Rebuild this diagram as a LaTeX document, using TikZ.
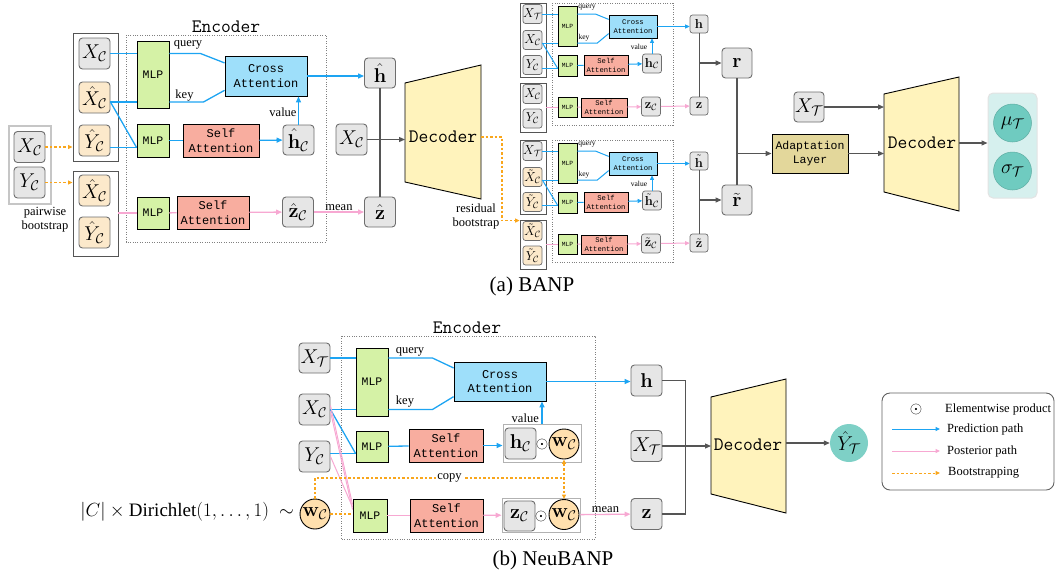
\RequirePackage{fix-cm}
\documentclass[tikz,border=0pt]{standalone}
\usepackage[no-math]{fontspec}
\setmainfont{Liberation Serif}
\newfontfamily\blk{Liberation Mono}
\usetikzlibrary{arrows.meta,calc}

\definecolor{boxgray}{HTML}{E6E6E6}
\definecolor{boxedge}{HTML}{6E6E6E}
\definecolor{hatfill}{HTML}{FCE9CB}
\definecolor{wfill}{HTML}{FFE0AE}
\definecolor{mlpfill}{HTML}{D5F2A6}
\definecolor{crossfill}{HTML}{9EDFFA}
\definecolor{selffill}{HTML}{F8AD9F}
\definecolor{decfill}{HTML}{FFF3BC}
\definecolor{adaptfill}{HTML}{E3D79B}
\definecolor{outfill}{HTML}{D6F0EE}
\definecolor{tealfill}{HTML}{6FCBC0}
\definecolor{yhatfill}{HTML}{7ED0C6}
\definecolor{predblue}{HTML}{1DA4F2}
\definecolor{postpink}{HTML}{F7A8D2}
\definecolor{bootorange}{HTML}{F9A61C}
\definecolor{wire}{HTML}{555555}

\tikzset{
  vbox/.style={draw=boxedge, fill=boxgray, rounded corners=3.5pt, line width=0.9pt,
    inner sep=0pt, minimum width=31pt, minimum height=31pt, font=\fontsize{20}{24}\selectfont},
  hvbox/.style={vbox, fill=hatfill},
  svbox/.style={vbox, minimum width=19pt, minimum height=19pt, rounded corners=2.5pt,
    line width=0.7pt, font=\fontsize{13}{15}\selectfont},
  shvbox/.style={svbox, fill=hatfill},
  blockbase/.style={draw=black, line width=0.9pt, inner sep=0pt, align=center,
    font=\blk\fontsize{12}{14.5}\selectfont},
  mlpblk/.style={blockbase, fill=mlpfill, font=\blk\fontsize{11.5}{13}\selectfont},
  crossblk/.style={blockbase, fill=crossfill},
  selfblk/.style={blockbase, fill=selffill},
  smlpblk/.style={mlpblk, line width=0.7pt, font=\blk\fontsize{6.3}{7}\selectfont},
  scrossblk/.style={crossblk, line width=0.7pt, font=\blk\fontsize{7.2}{9}\selectfont},
  sselfblk/.style={selfblk, line width=0.7pt, font=\blk\fontsize{7.2}{9}\selectfont},
  grpbox/.style={draw=wire, line width=0.9pt, inner sep=0pt},
  encbox/.style={draw=gray, dash pattern=on 1pt off 1.4pt, line width=0.8pt},
  pred/.style={draw=predblue, line width=1.3pt},
  post/.style={draw=postpink, line width=1.3pt},
  boot/.style={draw=bootorange, line width=1.3pt, dash pattern=on 2.5pt off 2pt},
  wireline/.style={draw=wire, line width=1.2pt},
  spred/.style={pred, line width=1pt},
  spost/.style={post, line width=1pt},
  swire/.style={wireline, line width=1pt},
  arr/.style={-{Triangle[length=6pt,width=5pt]}},
  sarr/.style={-{Triangle[length=4.5pt,width=4pt]}},
  lbl/.style={font=\fontsize{12.5}{14}\selectfont, inner sep=1pt},
  slbl/.style={font=\fontsize{7.5}{9}\selectfont, inner sep=0.5pt},
  dec/.style={draw=black, fill=decfill, line width=0.9pt},
  declbl/.style={font=\ttfamily\fontsize{19}{22}\selectfont, inner sep=0pt},
  wcirc/.style={circle, draw=black, fill=wfill, line width=0.9pt, inner sep=0pt,
    minimum size=30pt, font=\fontsize{20}{24}\selectfont},
  tcirc/.style={circle, fill=tealfill, draw=tealfill!85!black, line width=0.5pt, inner sep=0pt,
    minimum size=38pt, font=\fontsize{20}{24}\selectfont},
}

% One small bootstrap encoder branch: #1 vertical offset, #2 name prefix,
% #3 style of the context boxes, #4 accent on the context symbols
\newcommand\smallenc[4]{%
\begin{scope}[shift={(0,#1)}]
  \draw[encbox] (552,3) rectangle (673,125);
  \node[grpbox, minimum width=26pt, minimum height=74pt] (#2ga) at (533,40) {};
  \node[grpbox, minimum width=26pt, minimum height=49pt] (#2gb) at (533,107.5) {};
  \node[svbox] (#2xt) at (532.5,14) {$X_{\mathcal T}$};
  \node[#3] (#2xc) at (532.5,40) {$#4{X}_{\mathcal C}$};
  \node[#3] (#2yc) at (532.5,65) {$#4{Y}_{\mathcal C}$};
  \node[#3] (#2xcb) at (532.5,94) {$#4{X}_{\mathcal C}$};
  \node[#3] (#2ycb) at (532.5,118.5) {$#4{Y}_{\mathcal C}$};
  \node[smlpblk, minimum width=19pt, minimum height=40pt] (#2m1) at (567.5,26) {MLP};
  \node[smlpblk, minimum width=19pt, minimum height=21pt] (#2m2) at (567.5,65.5) {MLP};
  \node[smlpblk, minimum width=19pt, minimum height=20pt] (#2m3) at (567.5,107) {MLP};
  \node[scrossblk, minimum width=48pt, minimum height=23pt] (#2ca) at (633,26.5) {Cross\\Attention};
  \node[sselfblk, minimum width=44pt, minimum height=20pt] (#2sa) at (606,65) {Self\\Attention};
  \node[sselfblk, minimum width=46pt, minimum height=19pt] (#2sb) at (604,107.5) {Self\\Attention};
  \node[svbox] (#2hc) at (652,63.5) {$#4{\mathbf h}_{\mathcal C}$};
  \node[svbox] (#2zc) at (651,106.5) {$#4{\mathbf z}_{\mathcal C}$};
  \node[svbox, minimum width=18pt, minimum height=18pt] (#2h) at (699,24) {$#4{\mathbf h}$};
  \node[svbox, minimum width=18pt, minimum height=18pt] (#2z) at (699,106) {$#4{\mathbf z}$};
  % prediction path
  \draw[spred] (#2xt.east) -- (#2xt.east -| #2m1.west);
  \draw[spred] (#2xt.east -| #2m1.east) -- +(18,0) -- ($(#2ca.north west)!0.2!(#2ca.south west)$);
  \node[slbl] at (587,8) {query};
  \coordinate (#2k) at ($(#2xc.east)+(0,3)$);
  \draw[spred] (#2k) -- (#2k -| #2m1.west);
  \draw[spred] (#2k -| #2m1.east) -- +(20,0) -- ($(#2ca.north west)!0.8!(#2ca.south west)$);
  \node[slbl] at (584,38) {key};
  \coordinate (#2m2in) at ($(#2m2.south west)+(0,-8)$);
  \draw[spred] (#2k) -- (#2m2in);
  \draw[spred] (#2yc.east |- #2m2in) -- (#2m2in);
  \draw[spred] (#2m2) -- (#2sa);
  \draw[spred, sarr] (#2sa) -- (#2hc);
  \draw[spred, sarr] (#2hc) -- (#2hc |- #2ca.south);
  \node[slbl] at (639,47) {value};
  \draw[spred, sarr] (#2ca.east) -- (#2ca.east -| #2h.west);
  % posterior path
  \draw[spost] (#2gb.east |- #2m3) -- (#2m3);
  \draw[spost] (#2m3) -- (#2sb);
  \draw[spost, sarr] (#2sb) -- (#2zc);
  \draw[spost, sarr] (#2zc) -- (#2z);
  \draw[swire] (#2h) -- (#2z);
\end{scope}}

\begin{document}
\begin{tikzpicture}[x=1pt,y=-1pt]
\useasboundingbox (0,0) rectangle (1057,579);

% ---------------- (a) BANP ----------------
% pairwise bootstrap of the context set
\node[draw=gray!45, line width=1.2pt, inner sep=0pt, minimum width=42pt, minimum height=78pt] (pw) at (30,165) {};
\node[vbox] (a1x) at (29.5,147) {$X_{\mathcal C}$};
\node[vbox] (a1y) at (29.5,182.5) {$Y_{\mathcal C}$};
\node[lbl, align=center] (pwl) at (45,220) {pairwise\\bootstrap};

\node[grpbox, minimum width=45pt, minimum height=128pt] (g1) at (95.5,97) {};
\node[vbox] (a2x) at (94.5,53.5) {$X_{\mathcal C}$};
\node[hvbox] (a2xh) at (94.5,97.5) {$\hat X_{\mathcal C}$};
\node[hvbox] (a2yh) at (94.5,140.5) {$\hat Y_{\mathcal C}$};
\node[grpbox, minimum width=45pt, minimum height=85pt] (g2) at (95.5,213.5) {};
\node[hvbox] (a3xh) at (94.5,190.5) {$\hat X_{\mathcal C}$};
\node[hvbox] (a3yh) at (94.5,232.5) {$\hat Y_{\mathcal C}$};

\draw[boot, sarr] (a1x.east) -- (a1x.east -| g1.west);
\draw[boot, sarr] (a1y.east) -- (a1y.east -| g2.west);

% encoder
\draw[encbox] (126,35) rectangle (326,242);
\node[declbl, anchor=base] (encAl) at (226,32) {Encoder};
\node[mlpblk, minimum width=32pt, minimum height=67pt] (mlpA1) at (153,74.5) {MLP};
\node[mlpblk, minimum width=32pt, minimum height=33pt] (mlpA2) at (153,140.5) {MLP};
\node[mlpblk, minimum width=32pt, minimum height=32pt] (mlpA3) at (153,213) {MLP};
\node[crossblk, minimum width=82pt, minimum height=40pt] (crossA) at (266,76) {Cross\\Attention};
\node[selfblk, minimum width=76pt, minimum height=33pt] (selfA1) at (221,140.5) {Self\\Attention};
\node[selfblk, minimum width=72pt, minimum height=33pt] (selfA2) at (213,212.5) {Self\\Attention};
\node[vbox, minimum height=30pt] (hCa) at (298.5,140) {$\hat{\mathbf h}_{\mathcal C}$};
\node[vbox, minimum height=30pt] (zCa) at (298,212) {$\hat{\mathbf z}_{\mathcal C}$};

\draw[pred] (a2x.east) -- (a2x.east -| mlpA1.west);
\draw[pred] (a2x.east -| mlpA1.east) -- +(31,0) -- ($(crossA.north west)!0.18!(crossA.south west)$);
\node[lbl] at (188,45) {query};
\coordinate (kA) at ($(a2xh.east)+(0,4.5)$);
\draw[pred] (kA) -- (kA -| mlpA1.west);
\draw[pred] (kA -| mlpA1.east) -- +(34,0) -- ($(crossA.north west)!0.85!(crossA.south west)$);
\node[lbl] at (184.5,96) {key};
\coordinate (mA2in) at ($(mlpA2.south west)+(0,-10)$);
\draw[pred] (kA) -- (mA2in);
\draw[pred] (a2yh.east |- mA2in) -- (mA2in);
\draw[pred] (mlpA2) -- (selfA1);
\draw[pred, arr] (selfA1) -- (hCa);
\draw[pred, arr] (hCa) -- (hCa |- crossA.south);
\node[lbl] at (283,112) {value};

\draw[post] (g2.east |- mlpA3) -- (mlpA3.west);
\draw[post] (mlpA3) -- (selfA2);
\draw[post, arr] (selfA2) -- (zCa);

% latent summaries and decoder
\node[vbox, minimum height=30pt] (hhat) at (380,73) {$\hat{\mathbf h}$};
\node[vbox, minimum height=30pt] (zhat) at (380,212) {$\hat{\mathbf z}$};
\node[vbox] (xcmid) at (351.5,139.5) {$X_{\mathcal C}$};
\draw[pred, arr] (crossA.east) -- (crossA.east -| hhat.west);
\draw[post, arr] (zCa) -- node[lbl, above] {mean} (zhat);
\draw[wireline] (hhat) -- (zhat);

\coordinate (dAtl) at (405,83);
\coordinate (dAbl) at (405,182);
\coordinate (dAtr) at (481,65);
\coordinate (dAbr) at (481,199);
\draw[dec] (dAtl) -- (dAtr) -- (dAbr) -- (dAbl) -- cycle;
\node[declbl] (decA) at (443,137) {Decoder};
\draw[wireline, arr] (xcmid.east) -- (xcmid.east -| dAtl);

% residual bootstrap branches
\smallenc{0}{U}{svbox}{}
\smallenc{137}{L}{shvbox}{\tilde}

\draw[boot, sarr] (dAtr |- decA) -- ++(21,0) |- ($(Lgb.north west)+(0,1)$);
\node[lbl, align=center] (rbl) at (476,216.5) {residual\\bootstrap};

\node[vbox, minimum height=30pt, minimum width=30pt] (r) at (737,63) {$\mathbf r$};
\node[vbox, minimum height=30pt, minimum width=30pt] (rt) at (737,200) {$\tilde{\mathbf r}$};
\draw[wireline, arr] (Uh.south |- r.west) -- (r.west);
\draw[wireline, arr] (Lh.south |- rt.west) -- (rt.west);
\draw[wireline] (r) -- (rt);

\node[blockbase, fill=adaptfill, minimum width=76pt, minimum height=39pt,
  font=\blk\fontsize{11.5}{14}\selectfont] (adapt) at (810,153.5) {Adaptation\\Layer};
\draw[wireline, arr] (r.south |- adapt.west) -- (adapt.west);
\node[vbox, minimum width=30pt, minimum height=30pt] (xT2) at (809,107) {$X_{\mathcal T}$};

\coordinate (dBtl) at (884,94);
\coordinate (dBbl) at (884,192);
\coordinate (dBtr) at (959,77);
\coordinate (dBbr) at (959,211);
\draw[dec] (dBtl) -- (dBtr) -- (dBbr) -- (dBbl) -- cycle;
\node[declbl] (decB) at (922,143) {Decoder};
\draw[wireline, arr] (xT2.east) -- (xT2.east -| dBtl);
\draw[wireline, arr] (adapt.east) -- (adapt.east -| dBtl);

\node[draw=gray!22, fill=outfill, rounded corners=5pt, line width=1pt, inner sep=0pt,
  minimum width=49pt, minimum height=105pt] (out) at (1012.5,145.5) {};
\node[tcirc] (mu) at (1012.5,123) {$\mu_{\mathcal T}$};
\node[tcirc] (sg) at (1012.5,171) {$\sigma_{\mathcal T}$};
\draw[wireline, arr] (dBtr |- decB) -- (decB -| out.west);

\node[font=\fontsize{21}{24}\selectfont] (capA) at (532,286) {(a) BANP};

% ---------------- (b) NeuBANP ----------------
\node[vbox, minimum height=30pt] (bXT) at (314.5,358) {$X_{\mathcal T}$};
\node[vbox] (bXC) at (314.5,409.5) {$X_{\mathcal C}$};
\node[vbox] (bYC) at (314.5,456.5) {$Y_{\mathcal C}$};
\node[wcirc] (wC) at (315,514) {$\mathbf w_{\mathcal C}$};
\node[anchor=east, inner sep=0pt, font=\fontsize{19}{22}\selectfont] (dir) at (294,512)
  {$|C|\times{}$Dirichlet$(1,\ldots,1)\ \sim$};

\draw[encbox] (341,336) rectangle (595,539);
\node[declbl, anchor=base] (encBl) at (467,333) {Encoder};
\node[mlpblk, minimum width=32pt, minimum height=68pt] (bM1) at (372,382) {MLP};
\node[mlpblk, minimum width=32pt, minimum height=31pt] (bM2) at (372,446.5) {MLP};
\node[mlpblk, minimum width=34pt, minimum height=33pt] (bM3) at (370,515.5) {MLP};
\node[crossblk, minimum width=92pt, minimum height=39pt] (bCross) at (500,381.5) {Cross\\Attention};
\node[selfblk, minimum width=74pt, minimum height=33pt] (bS1) at (446,445.5) {Self\\Attention};
\node[selfblk, minimum width=73pt, minimum height=33pt] (bS2) at (446.5,515.5) {Self\\Attention};

\node[draw=gray!60, fill=white, line width=0.9pt, inner sep=0pt, minimum width=78pt, minimum height=38pt] (hw) at (542,443) {};
\node[vbox] (bhC) at (520.5,443.5) {$\mathbf h_{\mathcal C}$};
\node[inner sep=0pt, font=\fontsize{16}{16}\selectfont] (od1) at (542,444) {$\odot$};
\node[wcirc] (bw1) at (564,444) {$\mathbf w_{\mathcal C}$};
\node[draw=gray!60, fill=white, line width=0.9pt, inner sep=0pt, minimum width=78pt, minimum height=34pt] (zw) at (541,515) {};
\node[vbox, minimum height=30pt] (bzC) at (519.5,516) {$\mathbf z_{\mathcal C}$};
\node[inner sep=0pt, font=\fontsize{16}{16}\selectfont] (od2) at (541,516) {$\odot$};
\node[wcirc] (bw2) at (564,514.5) {$\mathbf w_{\mathcal C}$};

\draw[pred] (bXT.east) -- (bXT.east -| bM1.west);
\draw[pred] (bXT.east -| bM1.east) -- +(44,0) -- ($(bCross.north west)!0.16!(bCross.south west)$);
\node[lbl] at (410,352) {query};
\draw[pred] (bXC.east) -- (bXC.east -| bM1.west);
\draw[pred] (bXC.east -| bM1.east) -- +(44,0) -- ($(bCross.north west)!0.88!(bCross.south west)$);
\node[lbl] at (405,402) {key};
\coordinate (bM2in) at ($(bM2.south west)+(0,-9)$);
\draw[pred] (bXC.east) -- (bM2in);
\draw[pred] (bYC.east |- bM2in) -- (bM2in);
\draw[pred] (bM2) -- (bS1);
\draw[pred, arr] (bS1.east) -- (bS1.east -| hw.west);
\draw[pred, arr] (hw.north) -- (hw.north |- bCross.south);
\node[lbl, anchor=east] at (540,418) {value};

\draw[post, line width=1pt] ($(bXC.east)+(0,-4)$) -- ($(bM3.north west)+(0,6)$);
\draw[post, line width=1pt] ($(bXC.east)+(0,2)$) -- ($(bM3.north west)+(0,11)$);
\draw[post, line width=1pt] (bYC.east) -- ($(bM3.north west)+(0,8.5)$);
\draw[post] (bM3) -- (bS2);
\draw[post, arr] (bS2) -- (zw);

\coordinate (cpyY) at (0,478);
\draw[boot] (wC.east) -- (wC.east -| bM3.west);
\draw[boot] (wC.north) |- node[pos=0.77, lbl, fill=white] {copy} (bw1 |- cpyY);
\draw[boot, {Triangle[length=4.5pt,width=4pt]}-{Triangle[length=4.5pt,width=4pt]}] (bw1.south) -- (bw2.north);

\node[vbox] (bh) at (646.5,380.5) {$\mathbf h$};
\node[vbox] (bxT) at (646.5,446) {$X_{\mathcal T}$};
\node[vbox] (bz) at (646.5,514) {$\mathbf z$};
\draw[pred, arr] (bCross.east) -- (bCross.east -| bh.west);
\draw[post, arr] (zw) -- node[lbl, above] {mean} (bz);
\draw[wireline] (bh.east) -- ++(23,0) |- (bz.east);

\coordinate (dCtl) at (711,397);
\coordinate (dCbl) at (711,494);
\coordinate (dCtr) at (786,379);
\coordinate (dCbr) at (786,513);
\draw[dec] (dCtl) -- (dCtr) -- (dCbr) -- (dCbl) -- cycle;
\node[declbl] (decC) at (748,445) {Decoder};
\draw[wireline, arr] (bxT.east) -- (bxT.east -| dCtl);
\node[circle, fill=yhatfill, inner sep=0pt, minimum size=38pt, font=\fontsize{20}{24}\selectfont] (yhat) at (849,443) {$\hat Y_{\mathcal T}$};
\draw[wireline, arr] (dCtr |- yhat) -- (yhat.west);

% legend
\node[draw=gray!75!black, rounded corners=8pt, line width=0.9pt, inner sep=0pt,
  minimum width=172pt, minimum height=97pt] (leg) at (968,441.5) {};
\node[inner sep=0pt, font=\fontsize{16}{16}\selectfont] (lod) at (916,409) {$\odot$};
\node[lbl, anchor=west] (lt1) at (944,409) {Elementwise product};
\coordinate (l2a) at (892,429);
\coordinate (l2b) at (940,429);
\coordinate (l3a) at (892,451);
\coordinate (l3b) at (940,451);
\coordinate (l4a) at (892,473);
\coordinate (l4b) at (940,473);
\draw[pred, line width=1pt, sarr] (l2a) -- (l2b);
\draw[post, line width=1pt, sarr] (l3a) -- (l3b);
\draw[boot, line width=1pt, sarr] (l4a) -- (l4b);
\node[lbl, anchor=west] (lt2) at (946,429) {Prediction path};
\node[lbl, anchor=west] (lt3) at (946,451) {Posterior path};
\node[lbl, anchor=west] (lt4) at (947,473) {Bootstrapping};

\node[font=\fontsize{21}{24}\selectfont] (capB) at (553,560) {(b) NeuBANP};
\end{tikzpicture}
\end{document}
